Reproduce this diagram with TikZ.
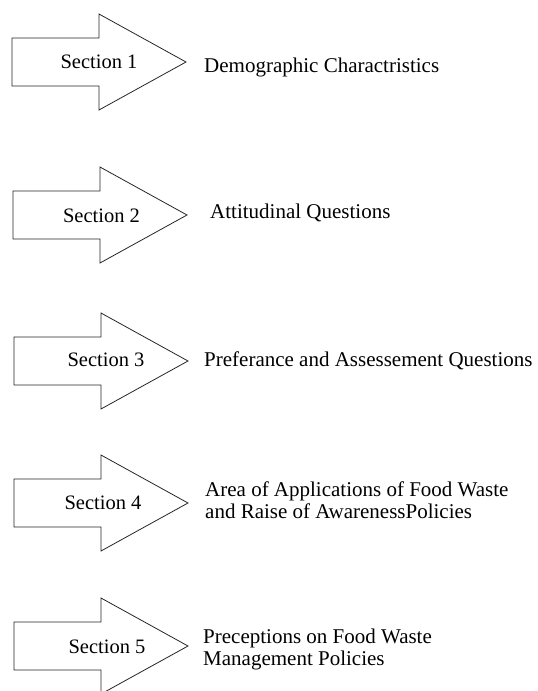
\documentclass[tikz,border=0pt]{standalone}
\usepackage{fontspec}
\setmainfont{Liberation Serif}
\begin{document}
\begin{tikzpicture}[x=1pt,y=-1pt,
  arrowshape/.style={draw=black!85,line width=0.8pt,fill=white,line join=miter},
  seclabel/.style={anchor=base,inner sep=0pt,font=\fontsize{20.5}{22}\selectfont},
  desc/.style={anchor=base west,inner sep=0pt,align=left,font=\fontsize{21}{21.5}\selectfont}]
\useasboundingbox (0,0) rectangle (538,691);
% #1 = left x, #2 = centre y
\newcommand\secarrow[2]{%
  \draw[arrowshape] (#1,#2-24) -- (#1+87,#2-24) -- (#1+87,#2-48) -- (#1+174,#2)
    -- (#1+87,#2+48) -- (#1+87,#2+24) -- (#1,#2+24) -- cycle;}
\secarrow{12}{62}
\secarrow{13}{215}
\secarrow{14}{361}
\secarrow{14}{503}
\secarrow{14}{646}
\node[seclabel] (s1) at (99,68) {Section 1};
\node[seclabel] (s2) at (101.5,222) {Section 2};
\node[seclabel] (s3) at (106,366) {Section 3};
\node[seclabel] (s4) at (103,509) {Section 4};
\node[seclabel] (s5) at (107,653) {Section 5};
\node[desc] (d1) at (204,72) {Demographic Charactristics};
\node[desc] (d2) at (210,218) {Attitudinal Questions};
\node[desc] (d3) at (204,366) {Preferance and Assessement Questions};
\node[desc] (d4) at (205,518) {Area of Applications of Food Waste\\and Raise of AwarenessPolicies};
\node[desc] (d5) at (203,665) {Preceptions on Food Waste\\Management Policies};
\end{tikzpicture}
\end{document}
